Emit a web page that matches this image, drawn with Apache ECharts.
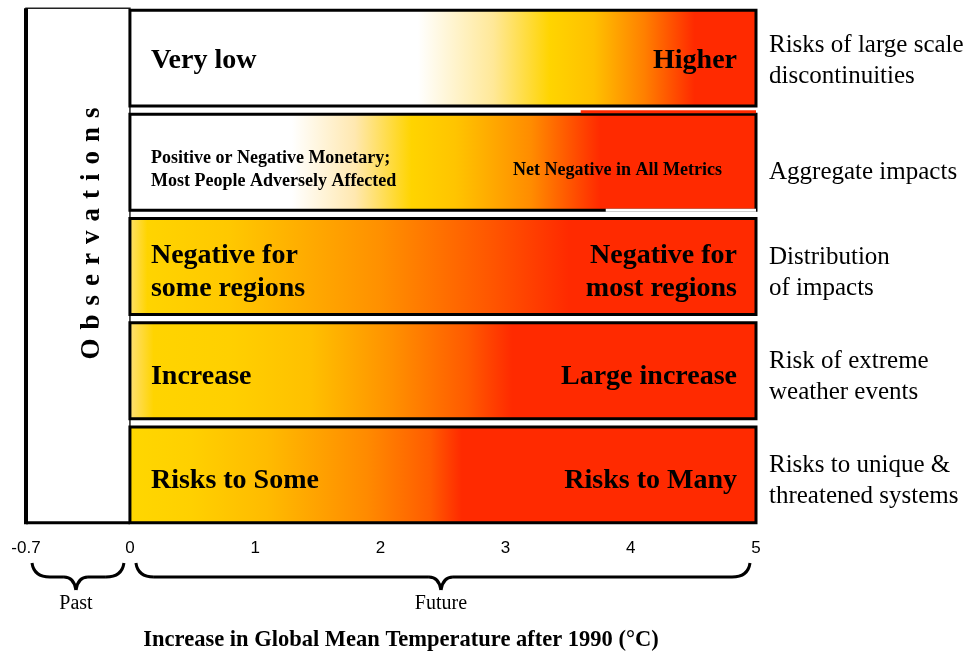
<!DOCTYPE html>
<html>
<head>
<meta charset="utf-8">
<script src="https://cdn.jsdelivr.net/npm/echarts@6/dist/echarts.min.js"></script>
<style>
  html, body { margin: 0; padding: 0; background: #fff; }
  #chart { width: 972px; height: 655px; }
</style>
</head>
<body>
<div id="chart"></div>
<script>
// reasons for concern, top to bottom
const ROW_LABELS = [
  'Risks of large scale\ndiscontinuities',
  'Aggregate impacts',
  'Distribution\nof impacts',
  'Risk of extreme\nweather events',
  'Risks to unique &\nthreatened systems'
]
const LOW_TEXT = [
  'Very low',
  'Positive or Negative Monetary;\nMost People Adversely Affected',
  'Negative for\nsome regions',
  'Increase',
  'Risks to Some'
]
const HIGH_TEXT = [
  'Higher',
  'Net Negative in All Metrics',
  'Negative for\nmost regions',
  'Large increase',
  'Risks to Many'
]
// risk colour along the temperature axis: [°C, colour]
const EMBERS = [
  [[0, '#ffffff'], [2.3, '#ffffff'], [2.9, '#ffe898'], [3.35, '#ffd400'], [3.7, '#ffc000'], [4.1, '#ff8000'], [4.5, '#ff2a00'], [5, '#ff2a00']],
  [[0, '#ffffff'], [1.3, '#ffffff'], [1.8, '#ffe8b0'], [2.25, '#ffd400'], [2.6, '#ffc400'], [3.2, '#ff8c00'], [3.75, '#ff2a00'], [5, '#ff2a00']],
  [[0, '#ffe070'], [0.15, '#ffd400'], [0.8, '#ffc800'], [2.0, '#ff9000'], [2.9, '#ff5500'], [3.5, '#ff2a00'], [5, '#ff2a00']],
  [[0, '#ffe07a'], [0.2, '#ffd400'], [0.8, '#ffd000'], [1.45, '#ffc000'], [2.1, '#ff9000'], [2.7, '#ff5a00'], [3.05, '#ff2a00'], [5, '#ff2a00']],
  [[0, '#ffd700'], [0.5, '#ffd000'], [1.1, '#ffbb00'], [1.9, '#ff8a00'], [2.4, '#ff5c00'], [2.65, '#ff2a00'], [5, '#ff2a00']]
]
const T_MAX = 5
const TICKS = [0, 1, 2, 3, 4, 5]
// the observed period (-0.7 °C) is drawn wider than to scale, as in the original
const PAST_START = -0.83
const PAST_LABEL = '-0.7'
const BRACES = [[PAST_START, 0, 'Past'], [0, T_MAX, 'Future']]

const SERIF = '"Liberation Serif", "Times New Roman", serif'
const chart = echarts.init(document.getElementById('chart'))

function renderEmber(params, api) {
  const row = api.value(2)
  const a = api.coord([api.value(0), row])
  const b = api.coord([api.value(1), row])
  const h = api.size([0, 1])[1] * 0.92
  const top = a[1] - h / 2
  const small = row === 1
  const children = [{
    type: 'rect',
    shape: { x: a[0], y: top, width: b[0] - a[0], height: h },
    style: {
      fill: new echarts.graphic.LinearGradient(0, 0, 1, 0,
        EMBERS[row].map(([t, c]) => ({ offset: t / T_MAX, color: c }))),
      stroke: '#000',
      lineWidth: 3
    }
  }]
  if (small) {
    // the red block of this row sits slightly above its frame in the original
    const r0 = api.coord([3.6, row])[0]
    const w0 = api.coord([3.8, row])[0]
    children.push({ type: 'rect', shape: { x: r0, y: top - 4, width: b[0] - r0, height: 3 }, style: { fill: '#ff2a00' } })
    children.push({ type: 'rect', shape: { x: w0, y: top + h - 1.5, width: b[0] - w0, height: 3 }, style: { fill: '#fff' } })
  }
  const font = small ? 'bold 18px ' + SERIF : 'bold 28px ' + SERIF
  const lh = small ? 23 : 33
  const cy = a[1] + (row === 0 ? 3 : small ? 8 : 6)
  children.push({
    type: 'text',
    style: { text: LOW_TEXT[row], x: a[0] + 21, y: cy, font, lineHeight: lh, fill: '#000', align: 'left', verticalAlign: 'middle' }
  })
  children.push({
    type: 'text',
    style: { text: HIGH_TEXT[row], x: b[0] - (small ? 34 : 19), y: cy, font, lineHeight: lh, fill: '#000', align: 'right', verticalAlign: 'middle' }
  })
  // category name to the right of the ember
  children.push({
    type: 'text',
    style: { text: ROW_LABELS[row], x: b[0] + 13, y: a[1] + (row === 0 ? 3 : small ? 10 : 6), font: '25px ' + SERIF, lineHeight: 31, fill: '#000', align: 'left', verticalAlign: 'middle' }
  })
  return { type: 'group', children }
}

function renderObservations(params, api) {
  const a = api.coord([api.value(0), 0])
  const b = api.coord([api.value(1), ROW_LABELS.length - 1])
  const h = api.size([0, 1])[1] * 0.92
  const top = a[1] - h / 2 - 2
  const bottom = b[1] + h / 2
  return {
    type: 'group',
    children: [
      { type: 'rect', shape: { x: a[0], y: top, width: b[0] - a[0], height: bottom - top }, style: { fill: '#fff', stroke: '#222', lineWidth: 1.5 } },
      { type: 'line', shape: { x1: a[0], y1: top, x2: a[0], y2: bottom + 1.5 }, style: { stroke: '#000', lineWidth: 4 } },
      { type: 'line', shape: { x1: a[0], y1: bottom, x2: b[0], y2: bottom }, style: { stroke: '#000', lineWidth: 3 } },
      {
        type: 'text',
        x: (a[0] + b[0]) / 2 + 14,
        y: (top + bottom) / 2 - 32,
        rotation: Math.PI / 2,
        style: { text: 'Observations'.split('').join('\u2004'), x: 0, y: 0, font: 'bold 27px ' + SERIF, fill: '#000', align: 'center', verticalAlign: 'middle' }
      }
    ]
  }
}

function renderBrace(params, api) {
  const cs = params.coordSys
  const base = cs.y + cs.height
  const x1 = api.coord([api.value(0), 0])[0] + 6
  const x2 = api.coord([api.value(1), 0])[0] - 6
  const xm = (x1 + x2) / 2 - 2
  const yTop = base + 36
  const yLine = base + 50
  const yTip = base + 63
  const st = { stroke: '#000', lineWidth: 3, fill: null }
  return {
    type: 'group',
    children: [
      { type: 'bezierCurve', shape: { x1: x1, y1: yTop, cpx1: x1 + 2, cpy1: yLine, x2: x1 + 18, y2: yLine }, style: st },
      { type: 'line', shape: { x1: x1 + 18, y1: yLine, x2: xm - 12, y2: yLine }, style: st },
      { type: 'bezierCurve', shape: { x1: xm - 12, y1: yLine, cpx1: xm - 2, cpy1: yLine, x2: xm, y2: yTip }, style: st },
      { type: 'bezierCurve', shape: { x1: xm, y1: yTip, cpx1: xm + 2, cpy1: yLine, x2: xm + 12, y2: yLine }, style: st },
      { type: 'line', shape: { x1: xm + 12, y1: yLine, x2: x2 - 18, y2: yLine }, style: st },
      { type: 'bezierCurve', shape: { x1: x2 - 18, y1: yLine, cpx1: x2 - 2, cpy1: yLine, x2: x2, y2: yTop }, style: st },
      {
        type: 'text',
        style: { text: BRACES[params.dataIndex][2], x: xm, y: base + 77, font: '20px ' + SERIF, fill: '#000', align: 'center', verticalAlign: 'middle' }
      }
    ]
  }
}

chart.setOption({
  animation: false,
  grid: { left: 26, right: 216, top: 6, bottom: 128, outerBoundsMode: 'none' },
  xAxis: {
    type: 'value',
    min: PAST_START,
    max: T_MAX,
    name: 'Increase in Global Mean Temperature after 1990 (°C)',
    nameLocation: 'middle',
    nameGap: 102,
    nameTextStyle: { fontFamily: SERIF, fontWeight: 'bold', fontSize: 22.5, color: '#000', padding: [0, 0, 0, 20] },
    axisLine: { show: false },
    axisTick: { show: false },
    splitLine: { show: false },
    axisLabel: {
      customValues: [PAST_START].concat(TICKS),
      formatter: (v) => (v < 0 ? PAST_LABEL : String(v)),
      margin: 13,
      fontFamily: '"Liberation Sans", Arial, sans-serif',
      fontSize: 17,
      color: '#000'
    }
  },
  yAxis: {
    type: 'category',
    inverse: true,
    data: ROW_LABELS,
    axisLine: { show: false },
    axisTick: { show: false },
    splitLine: { show: false },
    axisLabel: { show: false }
  },
  series: [
    {
      type: 'custom',
      renderItem: renderObservations,
      encode: { x: [0, 1] },
      data: [[PAST_START, 0]]
    },
    {
      type: 'custom',
      renderItem: renderEmber,
      encode: { x: [0, 1], y: 2 },
      data: ROW_LABELS.map((_, i) => [0, T_MAX, i])
    },
    {
      type: 'custom',
      renderItem: renderBrace,
      encode: { x: [0, 1] },
      data: BRACES.map((b) => [b[0], b[1]])
    }
  ]
})
</script>
</body>
</html>
